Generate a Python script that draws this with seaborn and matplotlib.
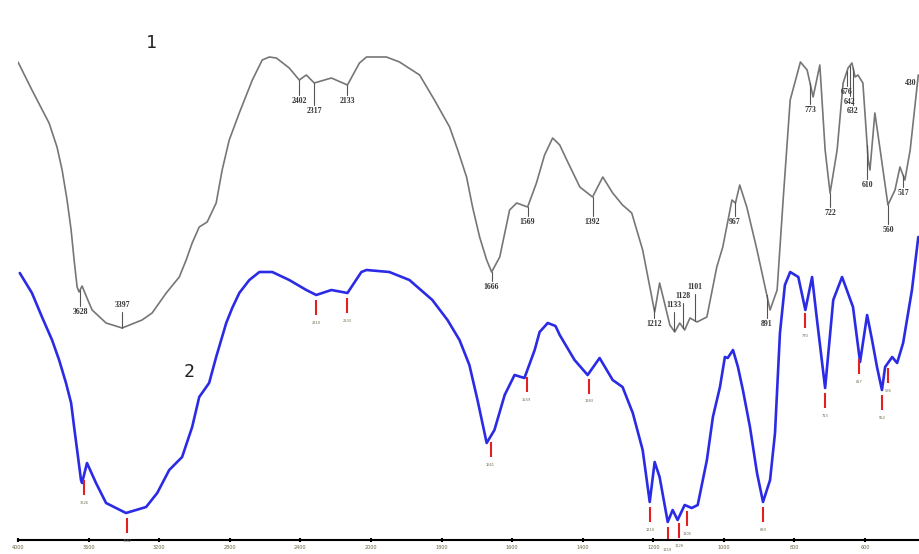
import numpy as np
import matplotlib
matplotlib.use("Agg")
import matplotlib.pyplot as plt
import seaborn as sns

# spectrum 1 (grey, upper trace): wavenumber (cm-1) and transmittance (a.u.)
wn1 = [4000, 3921, 3824, 3779, 3750, 3722, 3699, 3682, 3665, 3654, 3637, 3609, 3580, 3501, 3410,
       3297, 3240, 3160, 3086, 3047, 3013, 2973, 2928, 2877, 2843, 2803, 2746, 2672, 2616, 2576,
       2536, 2463, 2406, 2366, 2321, 2224, 2133, 2065, 2025, 1956, 1919, 1862, 1820, 1777, 1754,
       1729, 1712, 1692, 1672, 1658, 1635, 1607, 1587, 1556, 1531, 1508, 1485, 1465, 1445, 1408,
       1372, 1343, 1315, 1287, 1261, 1230, 1196, 1182, 1168, 1153, 1139, 1125, 1111, 1096, 1076,
       1048, 1020, 1003, 977, 967, 955, 935, 906, 869, 849, 832, 812, 783, 764, 747,
       728, 713, 699, 679, 662, 648, 637, 628, 620, 606, 591, 586, 572, 557, 535,
       515, 501, 487, 472, 449]
t1 = [95.6, 90.0, 83.4, 78.6, 74.0, 68.0, 62.0, 56.0, 50.6, 49.6, 50.8, 48.4, 46.0, 43.4, 42.4,
      44.0, 45.4, 49.4, 52.6, 56.0, 59.4, 62.6, 63.6, 67.4, 74.0, 80.0, 85.4, 92.0, 96.0, 96.6,
      96.4, 94.4, 92.0, 93.0, 91.4, 92.4, 91.0, 95.4, 96.6, 96.6, 95.6, 93.0, 88.0, 82.6, 78.0,
      72.6, 66.6, 60.6, 56.0, 53.6, 56.6, 66.0, 67.4, 66.6, 71.4, 77.0, 80.4, 79.0, 76.0, 70.6,
      68.6, 72.6, 69.4, 67.0, 65.4, 58.0, 45.6, 51.4, 47.4, 43.0, 41.6, 43.4, 42.0, 44.4, 43.6,
      44.6, 54.6, 58.6, 68.0, 67.4, 71.0, 66.6, 58.0, 46.0, 50.0, 68.0, 88.0, 95.6, 94.0, 88.6,
      95.0, 78.0, 69.4, 78.0, 91.4, 94.4, 95.4, 92.6, 93.0, 91.4, 76.0, 74.0, 85.4, 78.0, 67.0,
      70.0, 74.6, 72.0, 78.0, 93.0]

# spectrum 2 (blue, lower trace)
wn2 = [3990, 3921, 3864, 3807, 3767, 3728, 3699, 3682, 3665, 3643, 3637, 3609, 3558, 3501, 3388,
       3274, 3211, 3143, 3070, 3013, 2973, 2917, 2877, 2820, 2786, 2746, 2689, 2632, 2559, 2463,
       2366, 2310, 2224, 2133, 2054, 2025, 1948, 1891, 1826, 1783, 1749, 1721, 1698, 1672, 1650,
       1621, 1593, 1565, 1536, 1522, 1499, 1477, 1465, 1423, 1386, 1352, 1315, 1287, 1258, 1230,
       1210, 1196, 1182, 1159, 1145, 1131, 1111, 1091, 1074, 1048, 1031, 1011, 997, 989, 974,
       960, 946, 926, 906, 889, 869, 855, 841, 827, 812, 789, 769, 750, 736, 713,
       690, 665, 634, 614, 594, 580, 566, 552, 543, 523, 509, 492, 467, 449]
t2 = [53.4, 49.4, 44.6, 40.0, 36.0, 31.4, 27.4, 22.6, 18.0, 12.0, 11.4, 15.4, 11.4, 7.4, 5.4,
      6.6, 9.4, 14.0, 16.6, 22.6, 28.6, 31.4, 36.6, 43.4, 46.4, 49.4, 52.0, 53.6, 53.6, 52.0,
      50.0, 49.0, 50.0, 49.4, 53.6, 54.0, 53.6, 52.0, 48.0, 44.0, 40.0, 35.0, 28.0, 19.4, 22.0,
      29.0, 33.0, 32.4, 38.0, 41.6, 43.4, 42.8, 41.0, 36.0, 33.0, 36.4, 32.0, 30.6, 25.4, 18.0,
      7.6, 15.6, 12.6, 3.6, 6.0, 4.0, 7.0, 6.4, 7.0, 16.0, 24.6, 30.6, 36.6, 36.4, 38.0,
      34.6, 30.0, 22.6, 13.4, 7.6, 12.0, 21.4, 41.4, 51.0, 53.6, 52.6, 46.0, 52.6, 44.0, 30.4,
      48.0, 52.6, 46.6, 35.6, 45.0, 40.0, 34.6, 30.0, 34.6, 36.6, 35.4, 39.4, 50.0, 60.6]

# peak labels of spectrum 1 (where they sit, text, label height)
pk1_wn = [3648, 3410, 2406, 2321, 2133, 1658, 1556, 1372, 1198, 1141, 1116, 1082,
          969, 878, 756, 699, 651, 643, 634, 594, 535, 492, 472]
pk1_txt = ["3628", "3397", "2402", "2317", "2133", "1666", "1569", "1392", "1212", "1133", "1128", "1101",
           "967", "891", "773", "722", "676", "642", "632", "610", "560", "517", "430"]
pk1_y = [45.6, 47.0, 87.8, 85.8, 87.8, 50.6, 63.6, 63.6, 43.2, 47.0, 48.8, 50.6,
         63.6, 43.2, 86.0, 65.4, 89.6, 87.6, 85.8, 71.0, 62.0, 69.4, 91.4]

# peak marks of spectrum 2
pk2_wn = [3626, 3382, 2310, 2133, 1661, 1559, 1383, 1210, 1159, 1128, 1105, 889, 770, 713, 617, 552, 535]
pk2_txt = [str(w) for w in pk2_wn]

tick_wn = [4000, 3600, 3200, 2800, 2400, 2000, 1800, 1600, 1400, 1200, 1000, 800, 600]


# IR style axis: 4000-2000 at half the scale of 2000-400
def fwd(w):
    w = np.asarray(w, dtype=float)
    return np.where(w > 2000, 2000 + (w - 2000) / 2, w)


def inv(t):
    t = np.asarray(t, dtype=float)
    return np.where(t > 2000, 2000 + 2 * (t - 2000), t)


sns.set_style("white")
fig = plt.figure(figsize=(9.19, 5.54), dpi=100)
ax = fig.add_axes([18 / 919, 14 / 554, 901 / 919, 540 / 554])

sns.lineplot(x=wn1, y=t1, ax=ax, color="#767676", lw=1.2, sort=False, estimator=None,
             solid_joinstyle="round")
sns.lineplot(x=wn2, y=t2, ax=ax, color="#2b2be6", lw=1.9, sort=False, estimator=None,
             solid_joinstyle="round")

ax.set_xscale("function", functions=(fwd, inv))
ax.set_xlim(4000, 447)
ax.set_ylim(0, 108)

# grey peak labels with short leader lines
c1 = np.array(t1)[::-1]
x1 = np.array(wn1)[::-1]
for w, txt, ly in zip(pk1_wn, pk1_txt, pk1_y):
    cy = np.interp(w, x1, c1)
    if ly < cy:
        ax.plot([w, w], [cy, ly + 1.3], color="#555555", lw=0.8)
    elif ly - cy < 8:
        ax.plot([w, w], [ly - 1.3, cy], color="#555555", lw=0.8)
    ax.text(w, ly, txt, ha="center", va="center", fontsize=5.6, color="#333333",
            family="Liberation Serif", fontweight="bold")

# red peak marks on the blue spectrum
c2 = np.array(t2)[::-1]
x2 = np.array(wn2)[::-1]
for w, txt in zip(pk2_wn, pk2_txt):
    cy = np.interp(w, x2, c2)
    ax.plot([w, w], [cy - 1.0, cy - 4.0], color="#e32020", lw=1.5, solid_capstyle="butt")
    ax.text(w, cy - 5.2, txt, ha="center", va="top", fontsize=2.6, color="#6f6a50")

ax.text(3246, 99.4, "1", fontsize=13, color="#222222", family="DejaVu Sans Mono",
        ha="center", va="center")
ax.text(3030, 33.6, "2", fontsize=13, color="#222222", family="DejaVu Sans Mono",
        ha="center", va="center")

ax.set_xticks(tick_wn)
ax.set_xticklabels([str(t) for t in tick_wn])
ax.xaxis.set_minor_locator(matplotlib.ticker.NullLocator())
ax.set_yticks([])
ax.set_xlabel("")
ax.set_ylabel("")
sns.despine(ax=ax, left=True, top=True, right=True)
ax.spines["bottom"].set_color("black")
ax.spines["bottom"].set_linewidth(1.5)
ax.tick_params(axis="x", length=2.5, width=1.5, direction="inout", labelsize=3.5, pad=2,
               labelcolor="#6b6440", color="black", bottom=True)

fig.savefig("out.png", dpi=100)
